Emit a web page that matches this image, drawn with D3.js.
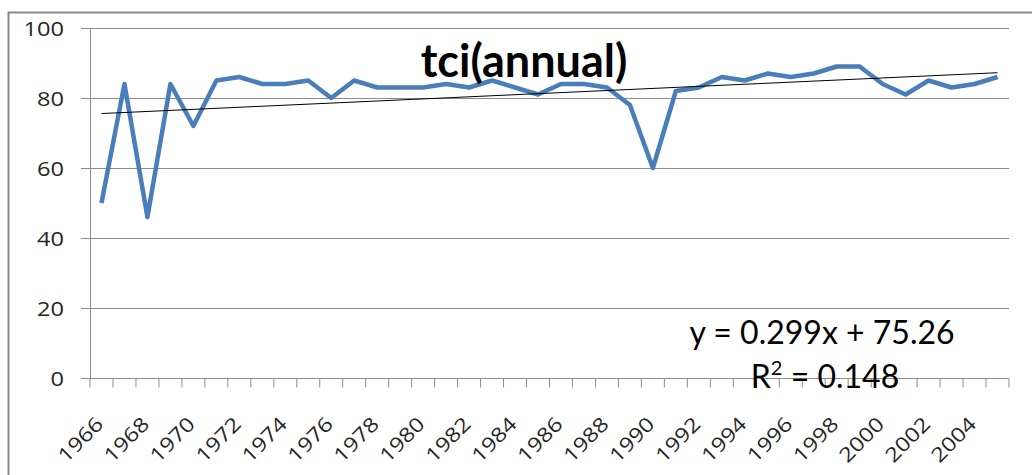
<!DOCTYPE html>
<html>
<head>
<meta charset="utf-8">
<script src="https://cdn.jsdelivr.net/npm/d3@7"></script>
<style>
  body { margin: 0; background: #fff; }
  text { font-family: Lato, "Open Sans", sans-serif; }
  .axis-label { font-family: "Open Sans", Lato, sans-serif; }
</style>
</head>
<body>
<div id="chart"></div>
<script>
// data
var years = [1966, 1967, 1968, 1969, 1970, 1971, 1972, 1973, 1974, 1975,
             1976, 1977, 1978, 1979, 1980, 1981, 1982, 1983, 1984, 1985,
             1986, 1987, 1988, 1989, 1990, 1991, 1992, 1993, 1994, 1995,
             1996, 1997, 1998, 1999, 2000, 2001, 2002, 2003, 2004, 2005];
var tci = [50, 84, 46, 84, 72, 85, 86, 84, 84, 85,
           80, 85, 83, 83, 83, 84, 83, 85, 83, 81,
           84, 84, 83, 78, 60, 82, 83, 86, 85, 87,
           86, 87, 89, 89, 84, 81, 85, 83, 84, 86];
var yTicks = [0, 20, 40, 60, 80, 100];
var trendSlope = 0.299;
var trendIntercept = 75.26;
var trendR2 = 0.148;
var chartTitle = "tci(annual)";

var svgWidth = 1032, svgHeight = 475;
var margin = { top: 28, right: 23, bottom: 97, left: 90 };
var width = svgWidth - margin.left - margin.right;
var height = svgHeight - margin.top - margin.bottom;
var axisFont = 20;
var labelStretch = 1.18;   // original axis font is broader

var svg = d3.select("#chart").append("svg")
    .attr("width", svgWidth)
    .attr("height", svgHeight);

// outer chart border
svg.append("rect")
    .attr("x", 8.5).attr("y", 12.5)
    .attr("width", 1040).attr("height", 480)
    .attr("fill", "none")
    .attr("stroke", "#888")
    .attr("stroke-width", 2);

var g = svg.append("g")
    .attr("transform", "translate(" + margin.left + "," + margin.top + ")");

var x = d3.scaleBand()
    .domain(years)
    .range([0, width])
    .padding(0);

var y = d3.scaleLinear()
    .domain([0, 100])
    .range([height, 0]);

// gridlines
g.append("g").attr("class", "grid")
    .selectAll("line")
    .data(yTicks.filter(function(d) { return d > 0; }))
    .enter().append("line")
    .attr("x1", 0).attr("x2", width)
    .attr("y1", function(d) { return Math.round(y(d)) + 0.5; })
    .attr("y2", function(d) { return Math.round(y(d)) + 0.5; })
    .attr("stroke", "#8c8c8c")
    .attr("stroke-width", 1);

// y axis
var yAxis = d3.axisLeft(y)
    .tickValues(yTicks)
    .tickSize(9);

var yAxisGroup = g.append("g").attr("class", "y-axis")
    .call(yAxis);
yAxisGroup.select(".domain").attr("stroke", "#8c8c8c");
yAxisGroup.selectAll(".tick line").attr("stroke", "#8c8c8c");
yAxisGroup.selectAll(".tick text")
    .attr("class", "axis-label")
    .attr("x", 0)
    .attr("dy", "0.36em")
    .attr("transform", "translate(-26,0) scale(" + labelStretch + ",1)")
    .attr("font-size", axisFont + "px")
    .attr("fill", "#262626");

// x axis: ticks at category boundaries
var xAxisGroup = g.append("g").attr("class", "x-axis")
    .attr("transform", "translate(0," + (Math.round(height) + 0.5) + ")");

xAxisGroup.append("line")
    .attr("x1", 0).attr("x2", width)
    .attr("stroke", "#8c8c8c");

xAxisGroup.selectAll(".xtick")
    .data(years.concat([null]))
    .enter().append("line")
    .attr("class", "xtick")
    .attr("x1", function(d, i) { return i * x.step(); })
    .attr("x2", function(d, i) { return i * x.step(); })
    .attr("y1", 0).attr("y2", 9)
    .attr("stroke", "#8c8c8c");

xAxisGroup.selectAll(".xlabel")
    .data(years.filter(function(d, i) { return i % 2 === 0; }))
    .enter().append("text")
    .attr("class", "xlabel axis-label")
    .attr("text-anchor", "end")
    .attr("font-size", axisFont + "px")
    .attr("fill", "#262626")
    .attr("transform", function(d) {
        return "translate(" + (x(d) + x.bandwidth() / 2 + 3) + ",47) rotate(-45) scale(" + labelStretch + ",1)";
    })
    .text(function(d) { return d; });

// data line
var line = d3.line()
    .x(function(d, i) { return x(years[i]) + x.bandwidth() / 2; })
    .y(function(d) { return y(d); });

g.append("path")
    .datum(tci)
    .attr("fill", "none")
    .attr("stroke", "#4a7ebb")
    .attr("stroke-width", 4.5)
    .attr("stroke-linejoin", "round")
    .attr("d", line);

// linear trendline, x = 1..n
var trend = [1, years.length].map(function(n) {
    return { year: years[n - 1], v: trendSlope * n + trendIntercept };
});
g.append("line")
    .attr("x1", x(trend[0].year) + x.bandwidth() / 2)
    .attr("x2", x(trend[1].year) + x.bandwidth() / 2)
    .attr("y1", y(trend[0].v))
    .attr("y2", y(trend[1].v))
    .attr("stroke", "#000")
    .attr("stroke-width", 1);

// title
svg.append("text")
    .attr("x", 524)
    .attr("y", 77)
    .attr("text-anchor", "middle")
    .attr("font-size", "45px")
    .attr("font-weight", "bold")
    .attr("fill", "#000")
    .text(chartTitle);

// trendline equation
var eq = svg.append("text")
    .attr("text-anchor", "middle")
    .attr("font-size", "32px")
    .attr("fill", "#000");
eq.append("tspan")
    .attr("x", 822).attr("y", 344)
    .text("y = " + trendSlope + "x + " + trendIntercept);
var r2 = eq.append("tspan")
    .attr("x", 825).attr("y", 388);
r2.append("tspan").text("R");
r2.append("tspan").attr("font-size", "20px").attr("dy", -13).text("2");
r2.append("tspan").attr("dy", 13).text(" = " + trendR2);
</script>
</body>
</html>
